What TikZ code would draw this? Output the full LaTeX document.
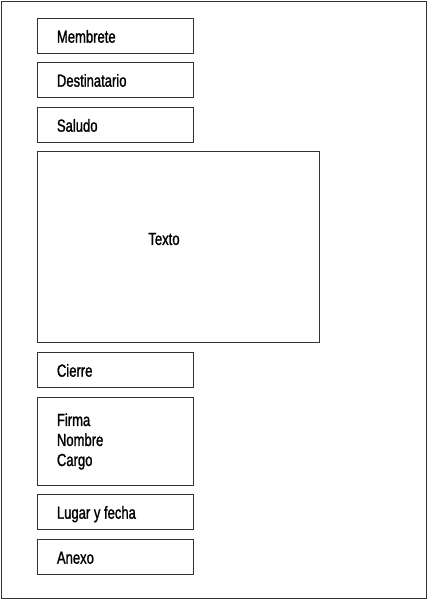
\documentclass[tikz,border=0pt]{standalone}
\usepackage{fontspec}
\setmainfont[FakeStretch=0.745, FakeBold=1.2]{Liberation Sans}
\usepackage{tikz}
\usetikzlibrary{positioning}

\newcommand{\letra}{\fontsize{17.5}{20}\selectfont}

\tikzset{
  campo/.style={draw=black!80, line width=0.9pt, anchor=north west,
    minimum width=156pt, minimum height=35pt, text width=117pt,
    inner xsep=19pt, align=left, font=\letra,
    execute at begin node={\spaceskip=3.6pt\relax}},
  unalinea/.style={campo, text height=13.5pt, text depth=0pt},
}

\begin{document}
\begin{tikzpicture}[x=1pt,y=-1pt]
	\useasboundingbox (0,0) rectangle (427,600);
	\draw [draw=black!80, line width=0.9pt] (1,1) rectangle (426,598);

	% encabezado
	\node[unalinea] (membrete) at (37,18) {Membrete};
	\node[unalinea] (destinatario) at (37,62) {Destinatario};
	\node[unalinea] (saludo) at (37,107) {Saludo};

	% cuerpo
	\node[campo, minimum width=282pt, minimum height=191pt] (texto) at (37,151) {};
	\node[font=\letra] (textolbl) at (164,239) {Texto};

	% cierre
	\node[unalinea] (cierre) at (37,352) {Cierre};
	\node[campo, minimum height=88pt] (firma) at (37,397) {Firma\\Nombre\\Cargo};
	\node[unalinea] (lugar) at (37,494) {Lugar y fecha};
	\node[unalinea] (anexo) at (37,539) {Anexo};
\end{tikzpicture}
\end{document}
